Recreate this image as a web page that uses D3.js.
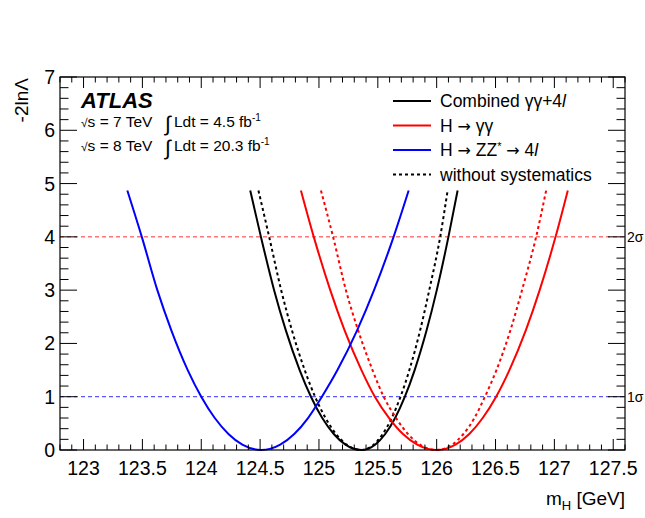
<!DOCTYPE html>
<html><head><meta charset="utf-8">
<script src="https://cdn.jsdelivr.net/npm/d3@7"></script>
<style>body{margin:0;background:#fff}svg{display:block}text{font-family:"Liberation Sans",Arial,sans-serif;fill:#000}</style>
</head><body><svg id="c" width="645" height="518"></svg>
<script>
// -2lnΛ levels at which each curve was read (left branch, minimum, right branch)
const levels = [4.87, 4, 3, 2.25, 1.5, 1, 0.6, 0.3, 0.1, 0, 0.1, 0.3, 0.6, 1, 1.5, 2.25, 3, 4, 4.87];
// m_H values (GeV) read for each level
const combMass     = [124.416,124.507,124.619,124.718,124.836,124.932,125.028,125.126,125.225,125.36,125.477,125.563,125.647,125.73,125.813,125.915,126.001,126.10,126.178];
const combStatMass = [124.486,124.577,124.679,124.77,124.879,124.967,125.056,125.145,125.236,125.36,125.465,125.542,125.618,125.693,125.768,125.86,125.937,126.03,126.093];
const ggMass       = [124.847,124.956,125.096,125.217,125.361,125.475,125.596,125.714,125.835,126.0,126.160,126.277,126.391,126.505,126.618,126.758,126.875,127.010,127.114];
const ggStatMass   = [125.017,125.12,125.229,125.332,125.455,125.55,125.655,125.756,125.859,126.0,126.131,126.227,126.321,126.41,126.508,126.627,126.725,126.845,126.93];
const zzMass       = [123.372,123.495,123.627,123.745,123.885,124.00,124.115,124.231,124.349,124.51,124.671,124.790,124.907,125.025,125.157,125.325,125.468,125.634,125.762];

const xTicks = [123, 123.5, 124, 124.5, 125, 125.5, 126, 126.5, 127, 127.5];
const yTicks = [0, 1, 2, 3, 4, 5, 6, 7];
const sigmaLevels = [1, 4];
const sigmaLabels = ["1σ", "2σ"];

const series = [
  {name:"comb", mass: combMass, color:"#000", dash:null},
  {name:"combStat", mass: combStatMass, color:"#000", dash:"3,3"},
  {name:"gg", mass: ggMass, color:"#ff0000", dash:null},
  {name:"ggStat", mass: ggStatMass, color:"#ff0000", dash:"3,3"},
  {name:"zz", mass: zzMass, color:"#0000ff", dash:null}
];

const svg = d3.select("#c");
const L = 60, R = 625, T = 77, B = 450;
const x = d3.scaleLinear().domain([122.8, 127.6]).range([L, R]);
const y = d3.scaleLinear().domain([0, 7]).range([B, T]);

// sigma lines
const sigColors = ["#3030ff", "#ff3030"];
sigmaLevels.forEach((v,i)=>{
  svg.append("line").attr("x1",L).attr("x2",R).attr("y1",y(v)).attr("y2",y(v))
    .attr("stroke",sigColors[i]).attr("stroke-width",1).attr("stroke-dasharray","4,3");
  svg.append("text").attr("x",R+2).attr("y",y(v)+5).attr("font-size",14).text(sigmaLabels[i]);
});

// curves
const line = d3.line().x(d=>x(d[0])).y(d=>y(d[1])).curve(d3.curveMonotoneX);
series.forEach(s=>{
  const pts = s.mass.map((m,i)=>[m, levels[i]]);
  svg.append("path").attr("d", line(pts)).attr("fill","none").attr("stroke",s.color)
    .attr("stroke-width",2).attr("stroke-dasharray", s.dash);
});

// frame
svg.append("rect").attr("x",L).attr("y",T).attr("width",R-L).attr("height",B-T)
  .attr("fill","none").attr("stroke","#000").attr("stroke-width",1.2);

// ticks
const xMajLen = 11, xMinLen = 5.5, yMajLen = 17, yMinLen = 8.5;
const xMinor = d3.range(0, 49).map(i=>122.8 + i*0.1);
xMinor.forEach(v=>{
  const major = Math.abs(v*2 - Math.round(v*2)) < 1e-6;
  const len = major ? xMajLen : xMinLen;
  svg.append("line").attr("x1",x(v)).attr("x2",x(v)).attr("y1",B).attr("y2",B-len).attr("stroke","#000");
  svg.append("line").attr("x1",x(v)).attr("x2",x(v)).attr("y1",T).attr("y2",T+len).attr("stroke","#000");
});
const yMinor = d3.range(0, 36).map(i=>i*0.2);
yMinor.forEach(v=>{
  const major = Math.abs(v - Math.round(v)) < 1e-6;
  const len = major ? yMajLen : yMinLen;
  svg.append("line").attr("x1",L).attr("x2",L+len).attr("y1",y(v)).attr("y2",y(v)).attr("stroke","#000");
  svg.append("line").attr("x1",R).attr("x2",R-len).attr("y1",y(v)).attr("y2",y(v)).attr("stroke","#000");
});

// tick labels
xTicks.forEach(v=>{
  svg.append("text").attr("x",x(v)).attr("y",475).attr("text-anchor","middle").attr("font-size",19.5).text(v);
});
yTicks.forEach(v=>{
  svg.append("text").attr("x",55).attr("y",y(v)+7).attr("text-anchor","end").attr("font-size",19.5).text(v);
});

// axis titles
svg.append("text").attr("transform","translate(28,78) rotate(-90)").attr("text-anchor","end")
  .attr("font-size",19).text("-2lnΛ");
const xt = svg.append("text").attr("x",625).attr("y",505).attr("text-anchor","end").attr("font-size",19);
xt.append("tspan").text("m");
xt.append("tspan").attr("font-size",13).attr("dy",5).text("H");
xt.append("tspan").attr("dy",-5).text(" [GeV]");

// ATLAS label
svg.append("text").attr("x",81).attr("y",107.5).attr("font-size",22).attr("font-weight","bold")
  .attr("font-style","italic").text("ATLAS");
const lumi = [["7","4.5"],["8","20.3"]];
lumi.forEach((d,i)=>{
  const by = 127 + i*24;
  const s = svg.append("text").attr("x",81).attr("y",by).attr("font-size",15.5);
  s.append("tspan").attr("font-size",12).text("√");
  s.append("tspan").text("s = "+d[0]+" TeV");
  svg.append("text").attr("x",165).attr("y",by+4).attr("font-size",21).attr("font-weight","300").text("∫");
  const t = svg.append("text").attr("x",174).attr("y",by).attr("font-size",15.5);
  t.append("tspan").text("Ldt = "+d[1]+" fb");
  t.append("tspan").attr("font-size",10).attr("dy",-6).text("-1");
});

// legend
const legendItems = [
  {color:"#000", dash:null, parts:[["Combined γγ+4",""],["l","italic"]]},
  {color:"#ff0000", dash:null, parts:[["H ",""],["→","arrow"],[" γγ",""]]},
  {color:"#0000ff", dash:null, parts:[["H ",""],["→","arrow"],[" ZZ",""],["*","sup"],[" ",""],["→","arrow"],[" 4",""],["l","italic"]]},
  {color:"#000", dash:"3,3", parts:[["without systematics",""]]}
];
legendItems.forEach((it,i)=>{
  const ly = 101 + i*24.5;
  svg.append("line").attr("x1",393).attr("x2",431).attr("y1",ly).attr("y2",ly)
    .attr("stroke",it.color).attr("stroke-width",2).attr("stroke-dasharray",it.dash);
  const t = svg.append("text").attr("x",440).attr("y",ly+6).attr("font-size",17.5);
  let prevSup = false;
  it.parts.forEach(p=>{
    const ts = t.append("tspan").text(p[0]);
    if(p[1]==="italic") ts.attr("font-style","italic");
    if(p[1]==="arrow") ts.attr("font-family","DejaVu Sans").attr("font-size",16);
    if(prevSup) ts.attr("dy",6);
    if(p[1]==="sup"){ ts.attr("font-size",11).attr("dy",-6); }
    prevSup = p[1]==="sup";
  });
});
</script></body></html>
